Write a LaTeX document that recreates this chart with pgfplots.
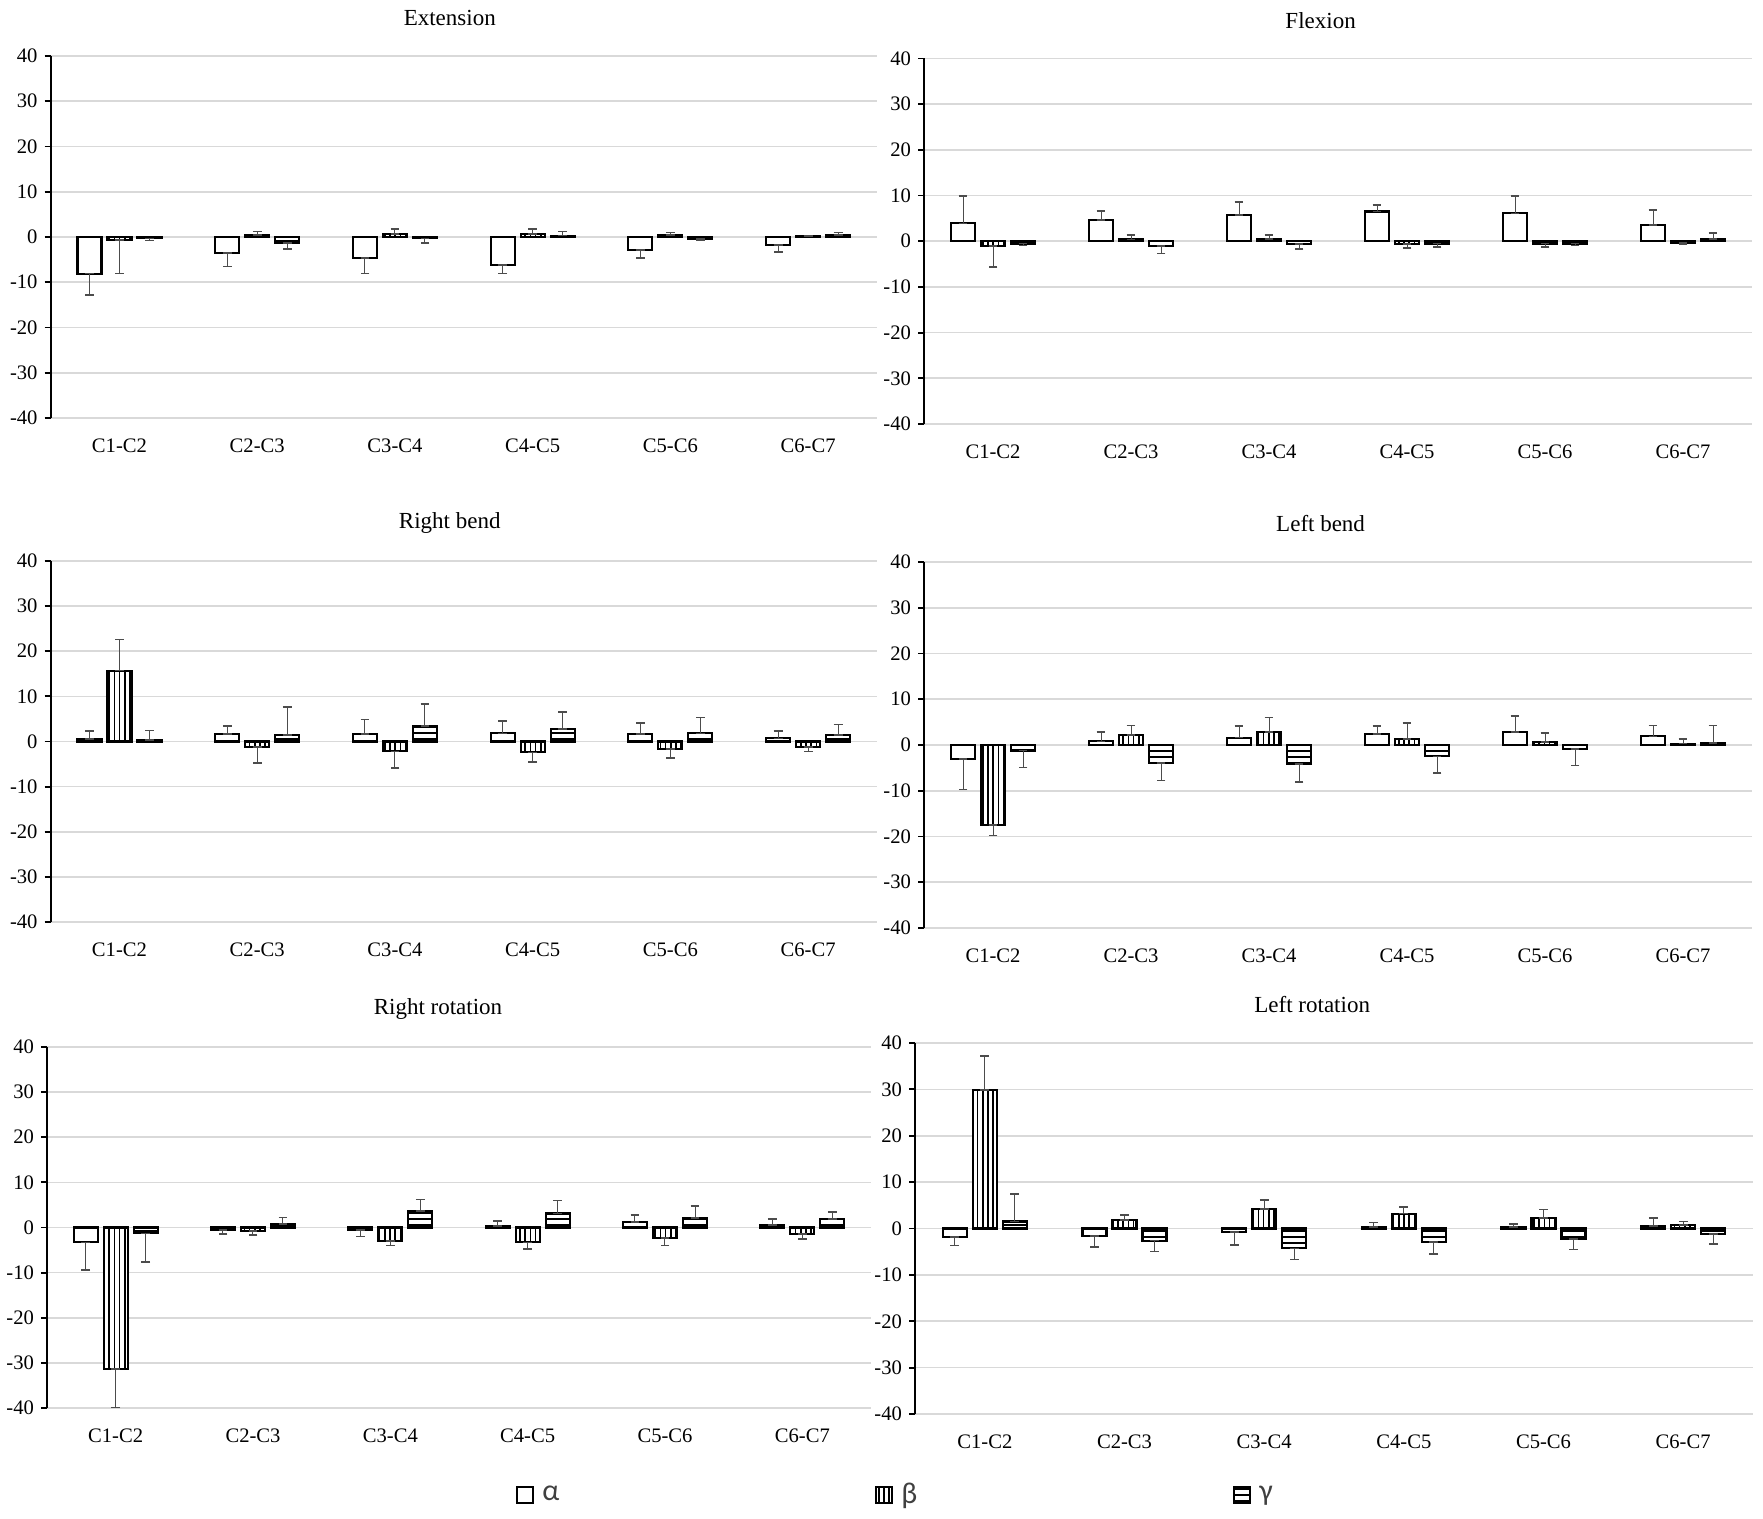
\documentclass[border=0pt]{standalone}
\usepackage{fontspec}
\setmainfont{Liberation Serif}
\newfontfamily\legfont{Carlito}
\usepackage{pgfplots}
\usepackage{pgfplotstable}
\pgfplotsset{compat=1.18}
\usetikzlibrary{patterns.meta}

% columns: alpha, beta, gamma and their one-sided errors
\pgfplotstableread{
x a ea b eb g eg
0 -8.1 4.7 -0.7 7.4 -0.3 0.5
1 -3.6 2.9 0.5 0.7 -1.3 1.3
2 -4.6 3.5 0.7 1.1 -0.3 1.0
3 -6.2 1.9 0.7 1.1 0.3 0.9
4 -2.9 1.7 0.5 0.5 -0.4 0.3
5 -1.8 1.5 0.1 0.1 0.5 0.5
}\extension
\pgfplotstableread{
x a ea b eb g eg
0 3.9 6.0 -1.0 4.6 -0.5 0.4
1 4.6 2.0 0.4 1.0 -1.0 1.7
2 5.7 2.9 0.5 0.8 -0.6 1.1
3 6.5 1.4 -0.6 0.9 -0.5 0.7
4 6.1 3.8 -0.5 0.7 -0.5 0.4
5 3.6 3.2 -0.4 0.2 0.5 1.3
}\flexion
\pgfplotstableread{
x a ea b eb g eg
0 0.6 1.7 15.7 6.9 0.3 2.1
1 1.6 1.9 -1.2 3.6 1.4 6.2
2 1.6 3.3 -2.2 3.7 3.5 4.8
3 1.8 2.8 -2.4 2.2 2.8 3.8
4 1.6 2.5 -1.7 2.0 1.8 3.5
5 0.7 1.6 -1.2 1.0 1.5 2.3
}\rightbend
\pgfplotstableread{
x a ea b eb g eg
0 -3.0 6.7 -17.5 2.3 -1.2 3.7
1 0.8 2.0 2.2 2.1 -4.0 3.8
2 1.6 2.6 2.8 3.2 -4.2 3.9
3 2.4 1.8 1.3 3.5 -2.5 3.6
4 2.8 3.6 0.7 1.9 -0.9 3.6
5 1.9 2.4 0.3 1.0 0.5 3.8
}\leftbend
\pgfplotstableread{
x a ea b eb g eg
0 -3.3 6.1 -31.4 8.5 -1.3 6.3
1 -0.5 1.0 -0.8 0.8 0.8 1.4
2 -0.5 1.5 -3.0 1.0 3.7 2.5
3 0.3 1.2 -3.3 1.5 3.1 2.9
4 1.2 1.6 -2.3 1.7 2.1 2.6
5 0.6 1.3 -1.4 1.2 1.9 1.6
}\rightrot
\pgfplotstableread{
x a ea b eb g eg
0 -1.8 1.9 29.9 7.3 1.5 5.9
1 -1.6 2.4 1.8 1.1 -2.6 2.4
2 -0.8 2.8 4.2 1.9 -4.3 2.4
3 0.3 1.0 3.2 1.4 -2.9 2.6
4 0.3 0.7 2.3 1.8 -2.2 2.3
5 0.6 1.7 0.7 0.8 -1.2 2.2
}\leftrot

\pgfplotsset{
  panel/.style={
    scale only axis, anchor=north west,
    ybar=3pt, bar width=12pt,
    ymin=-40, ymax=40, ytick distance=10,
    xmin=-0.5, xmax=5.5, xtick={0,...,5},
    xticklabels={C1-C2,C2-C3,C3-C4,C4-C5,C5-C6,C6-C7},
    axis lines*=left,
    x axis line style={draw=none},
    y axis line style={-, black, line width=0.9pt},
    xtick style={draw=none},
    ytick style={black, line width=0.9pt},
    tick align=outside, major tick length=3pt,
    ymajorgrids, grid style={black!15, line width=0.8pt},
    /pgf/number format/assume math mode=true,
    tick label style={font=\fontsize{10.3}{12}\selectfont},
    xticklabel style={yshift=-4pt},
    title style={font=\fontsize{11.5}{13}\selectfont, anchor=center, yshift=13pt},
    clip=false,
    error bars/y dir=both, error bars/y explicit,
    error bars/error mark=|,
    error bars/error bar style={black!70, line width=0.5pt},
    error bars/error mark options={black!70, line width=0.8pt, mark size=2.2pt},
  },
  sa/.style={draw=black, line width=1.05pt, fill=white},
  sb/.style={draw=black, line width=1.05pt, fill=white,
    postaction={pattern={Lines[angle=90,distance=2.6pt,line width=0.75pt]}}},
  sg/.style={draw=black, line width=1.05pt, fill=white,
    postaction={pattern={Lines[angle=0,distance=3pt,line width=0.75pt]}}},
}

% three series of one panel
\newcommand{\bars}[1]{%
  \addplot[sa] table[x=x, y=a,
    y error plus expr={(\thisrow{a}>=0)*\thisrow{ea}},
    y error minus expr={(\thisrow{a}<0)*\thisrow{ea}}] {#1};
  \addplot[sb] table[x=x, y=b,
    y error plus expr={(\thisrow{b}>=0)*\thisrow{eb}},
    y error minus expr={(\thisrow{b}<0)*\thisrow{eb}}] {#1};
  \addplot[sg] table[x=x, y=g,
    y error plus expr={(\thisrow{g}>=0)*\thisrow{eg}},
    y error minus expr={(\thisrow{g}<0)*\thisrow{eg}}] {#1};
}

\begin{document}
\begin{tikzpicture}
\useasboundingbox (0,0) rectangle (881.5pt,-759.5pt);

\begin{axis}[panel, at={(25.3pt,-28pt)}, width=413.2pt, height=181pt,
  title={Extension}, title style={at={(0.483,1)}}]
\bars{\extension}
\end{axis}

\begin{axis}[panel, at={(462pt,-29.25pt)}, width=414pt, height=182.75pt,
  title={Flexion}, title style={at={(0.479,1)}}]
\bars{\flexion}
\end{axis}

\begin{axis}[panel, at={(25.3pt,-280.5pt)}, width=413.2pt, height=180.5pt,
  title={Right bend}, title style={at={(0.483,1)}}]
\bars{\rightbend}
\end{axis}

\begin{axis}[panel, at={(462pt,-281pt)}, width=414pt, height=183pt,
  title={Left bend}, title style={at={(0.479,1)}}]
\bars{\leftbend}
\end{axis}

\begin{axis}[panel, at={(23.5pt,-523.5pt)}, width=412pt, height=180.5pt,
  title={Right rotation}, title style={at={(0.4745,1)}}]
\bars{\rightrot}
\end{axis}

\begin{axis}[panel, at={(457.5pt,-521.5pt)}, width=419pt, height=185.5pt,
  title={Left rotation}, title style={at={(0.474,1)}},
  legend columns=3,
  legend image code/.code={\draw[#1] (0pt,-4pt) rectangle (8pt,4pt);},
  legend style={at={(-0.022,-0.218)}, anchor=center, draw=none, fill=none,
    font=\legfont\fontsize{15}{17}\selectfont, text=black!75,
    /tikz/every odd column/.append style={column sep=2pt},
    /tikz/every even column/.append style={column sep=156pt}}]
\bars{\leftrot}
\legend{α,β,γ}
\end{axis}
\end{tikzpicture}
\end{document}
